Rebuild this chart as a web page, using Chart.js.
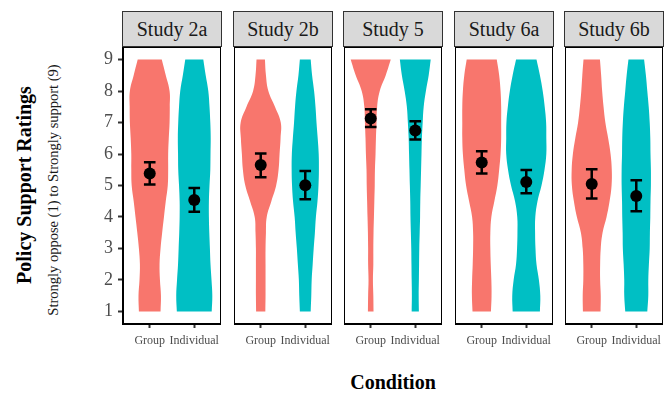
<!DOCTYPE html>
<html>
<head>
<meta charset="utf-8">
<script src="https://cdn.jsdelivr.net/npm/chart.js@4"></script>
<style>
  body { margin: 0; background: #fff; width: 671px; height: 394px; position: relative; overflow: hidden; font-family: 'Liberation Serif', serif; }
  canvas { position: absolute; }
  .strip { position: absolute; top: 11px; height: 34px; box-sizing: content-box; background: #d9d9d9; border: 1px solid #333; text-align: center; line-height: 34px; font-family: 'Liberation Serif', serif; font-size: 20px; color: #1a1a1a; }
  .vtext { position: absolute; white-space: nowrap; font-family: 'Liberation Serif', serif; transform: translate(-50%, -50%) rotate(-90deg); }
</style>
</head>
<body>
<div class="vtext" style="left:24px; top:185px; font-size:20px; font-weight:bold;">Policy Support Ratings</div>
<div class="vtext" style="left:53px; top:190px; font-size:14.5px; color:#1a1a1a;">Strongly oppose (1) to Strongly support (9)</div>
<div style="position:absolute; left:393px; top:382px; transform:translate(-50%,-50%); font-family:'Liberation Serif', serif; font-size:20px; font-weight:bold;">Condition</div>

<script>
// facets and conditions
const studies = ['Study 2a', 'Study 2b', 'Study 5', 'Study 6a', 'Study 6b'];
const conditions = ['Group', 'Individual'];
const ratingTicks = [1, 2, 3, 4, 5, 6, 7, 8, 9];

// rating levels where the violin width was read (top to bottom)
const levels = [9, 8.5, 8, 7.5, 7, 6.5, 6, 5.5, 5, 4.5, 4, 3.5, 3, 2.5, 2, 1.5, 1];

// relative density (1 = widest violin) per study
const groupDensity = [
    [.60, .80, .99, 1.0, .99, .95, .92, .92, .90, .80, .71, .62, .54, .49, .51, .56, .54],
    [.21, .26, .38, .71, 1.0, .99, .94, .89, .77, .53, .30, .26, .24, .24, .24, .24, .23],
    [1.0, .75, .45, .32, .29, .26, .24, .21, .20, .18, .16, .14, .13, .13, .11, .13, .14],
    [.75, .87, .94, .97, .97, .97, .94, .87, .78, .63, .48, .43, .43, .45, .48, .49, .46],
    [.41, .47, .52, .59, .68, .82, .94, 1.0, .99, .89, .74, .54, .45, .42, .42, .45, .44]
];
const individualDensity = [
    [.45, .57, .70, .76, .80, .82, .81, .80, .76, .73, .73, .75, .78, .81, .86, .90, .87],
    [.27, .34, .44, .51, .56, .62, .67, .68, .66, .61, .53, .48, .42, .37, .32, .30, .27],
    [.77, .67, .53, .42, .37, .33, .31, .29, .27, .25, .24, .22, .20, .19, .18, .17, .18],
    [.51, .68, .82, .92, .99, 1.0, 1.0, .91, .76, .56, .45, .44, .46, .51, .63, .70, .68],
    [.39, .48, .55, .62, .67, .70, .71, .73, .73, .71, .70, .68, .67, .63, .60, .60, .55]
];

// means and 95% CI
const groupMean = [5.38, 5.65, 7.13, 5.73, 5.05];
const groupLow  = [5.03, 5.26, 6.86, 5.38, 4.59];
const groupHigh = [5.74, 6.02, 7.42, 6.09, 5.52];
const individualMean = [4.54, 5.01, 6.75, 5.11, 4.67];
const individualLow  = [4.17, 4.56, 6.46, 4.75, 4.18];
const individualHigh = [4.92, 5.46, 7.04, 5.49, 5.17];

const colors = ['#F8766D', '#00BFC4'];
const serif = "'Liberation Serif', serif";
const panelLeft = [123, 234, 344, 455, 565];
const panelW = 98, panelTop = 47, panelH = 277;
const yAxisW = 40, xAxisH = 30;
const halfMax = 0.45, capHalf = 0.13;

function violinPoints(center, dens) {
    const right = [], left = [];
    for (let i = levels.length - 1; i >= 0; i--) {
        right.push({ x: center + dens[i] * halfMax, y: levels[i] });
    }
    for (let i = 0; i < levels.length; i++) {
        left.push({ x: center - dens[i] * halfMax, y: levels[i] });
    }
    // doppelte Ecken, damit oben/unten flach bleibt
    return [right[0]].concat(right, [right[right.length - 1]], [left[0]], left, [left[left.length - 1]], [right[0]]);
}

function errorBarPoints(center, lo, hi) {
    return [
        { x: center, y: lo }, { x: center, y: hi }, { x: center, y: null },
        { x: center - capHalf, y: hi }, { x: center + capHalf, y: hi }, { x: center, y: null },
        { x: center - capHalf, y: lo }, { x: center + capHalf, y: lo }
    ];
}

// keine automatische Polsterung durch die Achsen
function noPadding(scale) {
    scale.paddingLeft = 0;
    scale.paddingRight = 0;
    scale.paddingTop = 0;
    scale.paddingBottom = 0;
}

const framePlugin = {
    id: 'frame',
    afterDraw(chart) {
        const a = chart.chartArea, ctx = chart.ctx;
        ctx.save();
        ctx.strokeStyle = '#000';
        ctx.lineWidth = 1;
        ctx.strokeRect(a.left + 0.5, a.top + 0.5, a.right - a.left - 1, a.bottom - a.top - 1);
        ctx.restore();
    }
};

studies.forEach(function(name, s) {
    const withY = s === 0;
    const strip = document.createElement('div');
    strip.className = 'strip';
    strip.style.left = (panelLeft[s] - 1) + 'px';
    strip.style.width = panelW + 'px';
    strip.textContent = name;
    document.body.appendChild(strip);

    const canvas = document.createElement('canvas');
    canvas.width = panelW + (withY ? yAxisW : 0);
    canvas.height = panelH + xAxisH;
    canvas.style.left = (panelLeft[s] - (withY ? yAxisW : 0)) + 'px';
    canvas.style.top = panelTop + 'px';
    document.body.appendChild(canvas);

    const dens = [groupDensity[s], individualDensity[s]];
    const means = [groupMean[s], individualMean[s]];
    const lows = [groupLow[s], individualLow[s]];
    const highs = [groupHigh[s], individualHigh[s]];

    const datasets = [];
    conditions.forEach(function(c, k) {
        datasets.push({
            label: c,
            data: violinPoints(k + 1, dens[k]),
            showLine: true,
            fill: 'shape',
            backgroundColor: colors[k],
            borderColor: colors[k],
            borderWidth: 0,
            pointRadius: 0,
            tension: 0.4,
            order: 3
        });
        datasets.push({
            label: c + ' CI',
            data: errorBarPoints(k + 1, lows[k], highs[k]),
            showLine: true,
            fill: false,
            borderColor: '#000',
            borderWidth: 2.5,
            pointRadius: 0,
            tension: 0,
            spanGaps: false,
            order: 2
        });
    });
    datasets.push({
        label: 'mean',
        data: means.map((m, k) => ({ x: k + 1, y: m })),
        showLine: false,
        pointRadius: 6,
        pointBackgroundColor: '#000',
        pointBorderColor: '#000',
        pointBorderWidth: 0,
        order: 1
    });

    new Chart(canvas, {
        type: 'line',
        data: { datasets: datasets },
        plugins: [framePlugin],
        options: {
            responsive: false,
            animation: false,
            devicePixelRatio: 1,
            layout: { padding: 0, autoPadding: false },
            plugins: { legend: { display: false }, tooltip: { enabled: false } },
            scales: {
                x: {
                    type: 'linear',
                    min: 0.4,
                    max: 2.6,
                    afterBuildTicks: function(scale) { scale.ticks = [{ value: 1 }, { value: 2 }]; },
                    afterFit: function(scale) { scale.height = xAxisH; noPadding(scale); },
                    ticks: {
                        callback: function(v) { return conditions[v - 1]; },
                        font: { family: serif, size: 12 },
                        color: '#4d4d4d',
                        padding: 6,
                        autoSkip: false,
                        maxRotation: 0
                    },
                    grid: { drawOnChartArea: false, tickLength: 4, tickColor: '#333', tickWidth: 2 },
                    border: { display: true, color: '#000', width: 2 }
                },
                y: {
                    display: withY,
                    min: 0.6,
                    max: 9.4,
                    afterBuildTicks: function(scale) { scale.ticks = ratingTicks.map(v => ({ value: v })); },
                    afterFit: function(scale) { scale.width = withY ? yAxisW : 0; noPadding(scale); },
                    ticks: {
                        font: { family: serif, size: 18 },
                        color: '#4d4d4d',
                        padding: 5,
                        autoSkip: false
                    },
                    grid: { drawOnChartArea: false, tickLength: 5, tickColor: '#333', tickWidth: 2 },
                    border: { display: true, color: '#000', width: 2 }
                }
            }
        }
    });
});
</script>
</body>
</html>
